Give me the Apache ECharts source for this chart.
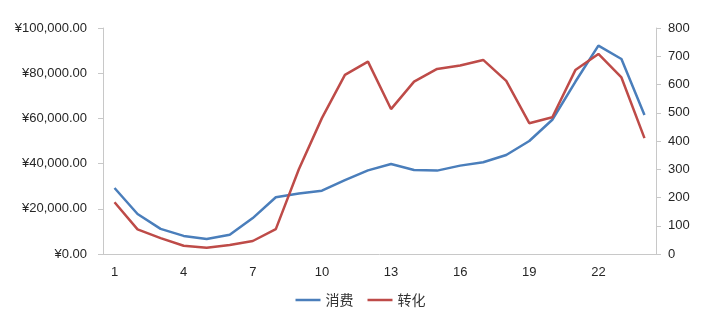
<!DOCTYPE html>
<html><head><meta charset="utf-8">
<script src="https://cdn.jsdelivr.net/npm/echarts@6/dist/echarts.min.js"></script>
<style>html,body{margin:0;padding:0;background:#fff}#c{width:721px;height:326px}</style>
</head><body><div id="c"></div>
<script>
var categories = ['1','2','3','4','5','6','7','8','9','10','11','12','13','14','15','16','17','18','19','20','21','22','23','24'];
var spendValues = [29200,17700,11100,8000,6600,8500,15900,25100,26800,28000,32700,37000,39800,37200,36900,39100,40600,43800,50000,59400,76200,92200,86300,61500];
var conversionValues = [183,87,56,29,22,32,46,88,300,481,634,681,513,610,655,667,687,613,463,484,651,708,625,410];
var leftTicks = {min:0,max:100000,interval:20000};
var rightTicks = {min:0,max:800,interval:100};
var seriesNames = ['消费','转化'];

function yen(v){
  var s = Math.round(v).toString().replace(/\B(?=(\d{3})+(?!\d))/g, ',');
  return '¥' + s + '.00';
}
var font = 'Liberation Sans, Arial, sans-serif';
var chart = echarts.init(document.getElementById('c'));
chart.setOption({
  animation:false,
  backgroundColor:'#fff',
  grid:{left:103,right:65,top:28,bottom:72},
  legend:{
    data:seriesNames, bottom:14, left:'center',
    icon:'rect', itemWidth:25, itemHeight:2.5, itemGap:14,
    textStyle:{color:'#333',fontSize:14,fontFamily:'Noto Sans CJK SC'}
  },
  xAxis:{
    type:'category', data:categories, boundaryGap:true,
    axisLine:{lineStyle:{color:'#c8c8c8',width:1}},
    axisTick:{show:false},
    axisLabel:{interval:2,color:'#262626',fontSize:13,fontFamily:font,margin:12}
  },
  yAxis:[{
    type:'value', min:leftTicks.min, max:leftTicks.max, interval:leftTicks.interval,
    splitLine:{show:false},
    axisLine:{show:true,lineStyle:{color:'#c8c8c8'}},
    axisTick:{show:true,length:5,lineStyle:{color:'#c8c8c8'}},
    axisLabel:{formatter:yen,color:'#262626',fontSize:13,fontFamily:font,margin:16}
  },{
    type:'value', min:rightTicks.min, max:rightTicks.max, interval:rightTicks.interval,
    splitLine:{show:false},
    axisLine:{show:true,lineStyle:{color:'#c8c8c8'}},
    axisTick:{show:true,length:5,lineStyle:{color:'#c8c8c8'}},
    axisLabel:{color:'#262626',fontSize:13,fontFamily:font,margin:12}
  }],
  series:[{
    name:seriesNames[0], type:'line', yAxisIndex:0, data:spendValues,
    showSymbol:false, symbol:'none', lineStyle:{color:'#4a7ebb',width:2.5}, itemStyle:{color:'#4a7ebb'}
  },{
    name:seriesNames[1], type:'line', yAxisIndex:1, data:conversionValues,
    showSymbol:false, symbol:'none', lineStyle:{color:'#be4b48',width:2.5}, itemStyle:{color:'#be4b48'}
  }]
});
</script></body></html>
